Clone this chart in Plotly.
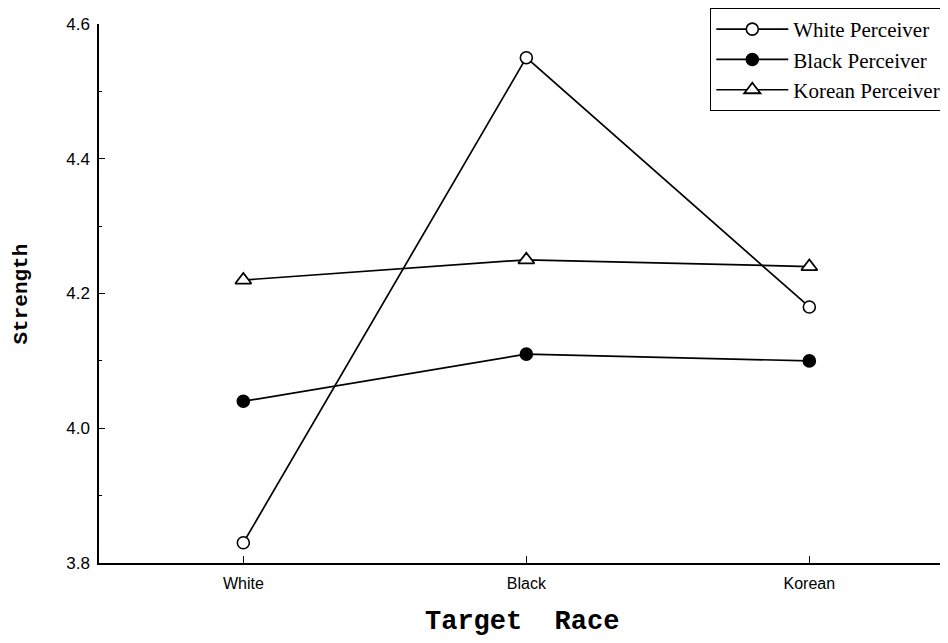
import plotly.graph_objects as go

categories = ["White", "Black", "Korean"]
white_perceiver = [3.83, 4.55, 4.18]
black_perceiver = [4.04, 4.11, 4.10]
korean_perceiver = [4.22, 4.25, 4.24]
y_ticks = [3.8, 4.0, 4.2, 4.4, 4.6]
y_tick_labels = ["3.8", "4.0", "4.2", "4.4", "4.6"]

fig = go.Figure()
line = dict(color="black", width=1.7)
fig.add_trace(go.Scatter(x=categories, y=white_perceiver, mode="lines+markers", name="White Perceiver",
                         line=line,
                         marker=dict(symbol="circle", size=12, color="white",
                                     line=dict(color="black", width=1.6))))
fig.add_trace(go.Scatter(x=categories, y=black_perceiver, mode="lines+markers", name="Black Perceiver",
                         line=line,
                         marker=dict(symbol="circle", size=12, color="black",
                                     line=dict(color="black", width=1.6))))
fig.add_trace(go.Scatter(x=categories, y=korean_perceiver, mode="lines+markers", name="Korean Perceiver",
                         line=line,
                         marker=dict(symbol="triangle-up", size=14, color="white",
                                     line=dict(color="black", width=1.8))))

fig.update_layout(
    width=940, height=635,
    margin=dict(l=91, r=0, t=15, b=80),
    paper_bgcolor="white", plot_bgcolor="white",
    showlegend=True,
    legend=dict(x=0.998, xanchor="right", y=1.03, yanchor="top",
                bordercolor="black", borderwidth=1, bgcolor="white",
                font=dict(family="Liberation Serif", size=21, color="black"),
                itemwidth=72, tracegroupgap=0),
    xaxis=dict(type="category", range=[-0.51, 2.49], showgrid=False, zeroline=False,
               showline=True, linecolor="black", linewidth=1.5,
               ticks="inside", ticklen=7, tickcolor="black", tickwidth=1.2,
               ticklabelstandoff=5,
               tickfont=dict(family="Liberation Sans", size=16, color="black")),
    yaxis=dict(range=[3.8, 4.6], showgrid=False, zeroline=False,
               showline=True, linecolor="black", linewidth=1.5,
               tickvals=y_ticks, ticktext=y_tick_labels,
               ticks="inside", ticklen=6, tickcolor="black", tickwidth=1.2,
               ticklabelstandoff=4,
               minor=dict(dtick=0.1, ticks="inside", ticklen=3, tickcolor="black", showgrid=False),
               tickfont=dict(family="Liberation Sans", size=17, color="black")),
    annotations=[
        dict(text="<b>Strength</b>", xref="paper", yref="paper", x=-0.0907, y=0.5,
             textangle=-90, showarrow=False, xanchor="center", yanchor="middle",
             font=dict(family="Liberation Mono", size=21, color="black")),
        dict(text="<b>Target  Race</b>", xref="paper", yref="paper", x=0.498, y=-0.11,
             xanchor="center", yanchor="middle", showarrow=False,
             font=dict(family="Liberation Mono", size=27, color="black")),
    ],
)

fig.write_html("out.html")
